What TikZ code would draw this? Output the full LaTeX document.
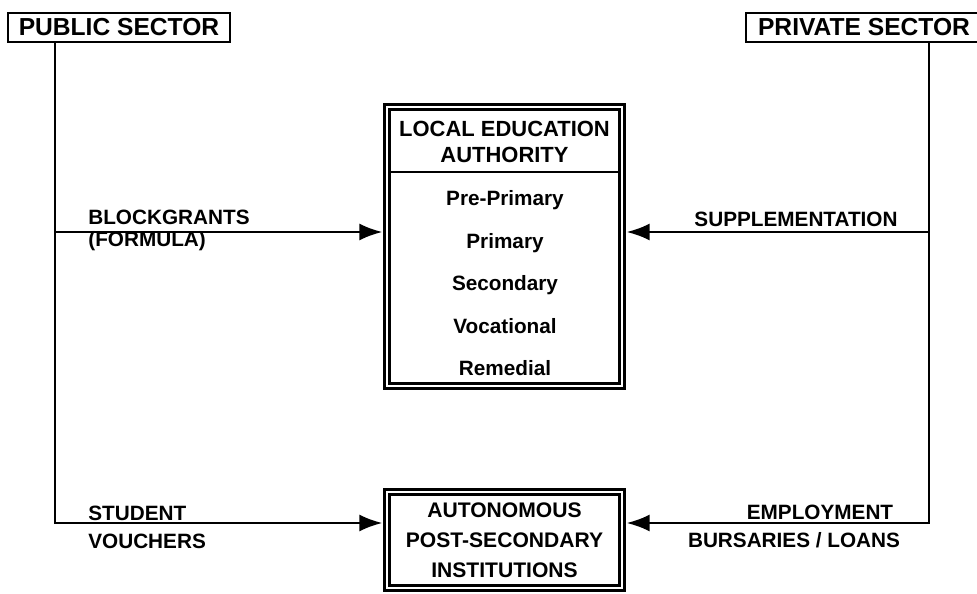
\documentclass[tikz,border=0pt]{standalone}
\usepackage{fontspec}
\setmainfont{Liberation Sans}
\usetikzlibrary{arrows.meta}
\tikzset{
	sectornode/.style = {rectangle, draw=black, line width=1.2pt, inner sep=0pt, font=\fontsize{14}{16}\selectfont\bfseries},
	agencynode/.style = {rectangle, draw=black, double, double distance=1.6pt, line width=1.3pt, inner sep=0pt},
	boxtext/.style = {inner sep=0pt, font=\fontsize{11.8}{17}\selectfont\bfseries},
	itemtext/.style = {boxtext, text height=1.6ex, text depth=0.4ex},
	flowlabel/.style = {inner sep=0pt, font=\fontsize{11.8}{12.5}\selectfont\bfseries},
	flowline/.style = {draw, line width=1.4pt, shorten >=2pt, -{Latex[length=4.6mm, width=3.4mm]}}
}

\begin{document}
\begin{tikzpicture}[x=0.02cm, y=-0.02cm, node distance=0.85cm]
		\useasboundingbox (0,0) rectangle (977,594);
		%sectors
		\node (public) [sectornode, minimum width=4.44cm, minimum height=0.58cm] at (119,27.5) {PUBLIC SECTOR};
		\node (private) [sectornode, minimum width=4.72cm, minimum height=0.58cm] at (864,27.5) {PRIVATE SECTOR};

		%local education authority
		\node (lea) [agencynode, minimum width=4.7cm, minimum height=5.58cm] at (504.5,246.5) {};
		\node (leahead) [boxtext, align=center, font=\fontsize{12.5}{15}\selectfont\bfseries] at (504.5,142) {LOCAL EDUCATION\\AUTHORITY};
		\coordinate (divide) at (504.5,172);
		\draw [line width=1pt, shorten <=2.5pt, shorten >=2.5pt] (divide -| lea.west) -- (divide -| lea.east);
		\node (preprim) [itemtext] at (505,200) {Pre-Primary};
		\node (prim) [itemtext, below of=preprim] {Primary};
		\node (second) [itemtext, below of=prim] {Secondary};
		\node (vocat) [itemtext, below of=second] {Vocational};
		\node (remed) [itemtext, below of=vocat] {Remedial};

		%post-secondary
		\node (ans) [agencynode, minimum width=4.7cm, minimum height=1.92cm, align=center, font=\fontsize{12}{17}\selectfont\bfseries] at (504.5,540) {AUTONOMOUS\\POST-SECONDARY\\INSTITUTIONS};

		%labels
		\node (grants) [flowlabel, align=left, anchor=west] at (88,230) {BLOCKGRANTS\\(FORMULA)};
		\node (suppl) [flowlabel] at (796,219.5) {SUPPLEMENTATION};
		\node (vouch) [flowlabel, align=left, anchor=west, font=\fontsize{11.8}{16}\selectfont\bfseries] at (88,527) {STUDENT\\VOUCHERS};
		\node (employ) [flowlabel] at (820,512) {EMPLOYMENT};
		\node (bursar) [flowlabel] at (794,540) {BURSARIES / LOANS};

		%connect
		\coordinate (grantlvl) at (55,232);
		\coordinate (supplvl) at (929,232);
		\coordinate (pubcorner) at (55,523);
		\coordinate (privcorner) at (929,523);
		\path [flowline] (public.south -| pubcorner) -- (pubcorner) -- (pubcorner -| ans.west);
		\path [flowline] (private.south -| privcorner) -- (privcorner) -- (privcorner -| ans.east);
		\path [flowline] (grantlvl) -- (grantlvl -| lea.west);
		\path [flowline] (supplvl) -- (supplvl -| lea.east);
\end{tikzpicture}
\end{document}
